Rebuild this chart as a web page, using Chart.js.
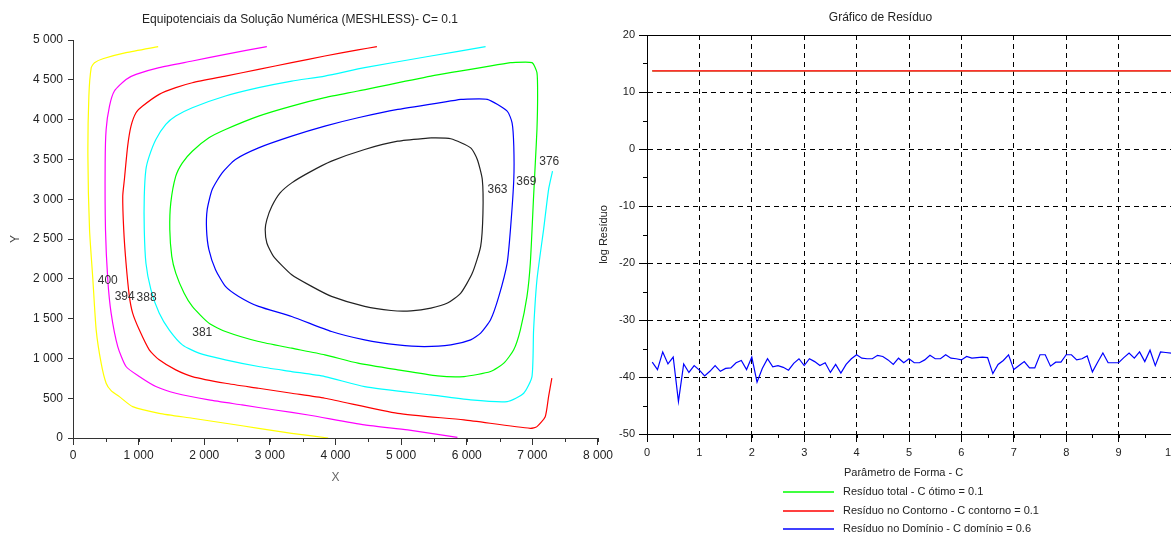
<!DOCTYPE html>
<html>
<head>
<meta charset="utf-8">
<script src="https://cdn.jsdelivr.net/npm/chart.js@4.4.0/dist/chart.umd.min.js"></script>
<style>
body { margin: 0; width: 1171px; height: 533px; overflow: hidden; background: #fff; position: relative; }
#equip { position: absolute; left: 0; top: 0; }
#residuo { position: absolute; left: 590px; top: 0; }
</style>
</head>
<body>
<canvas id="equip" width="616" height="533"></canvas>
<canvas id="residuo" width="636" height="533"></canvas>
<script>
// curvas de nivel (x, y)
const c400 = [[1298,4917],[808,4841],[455,4765],[328,4715],[278,4652],[242,4296],[227,3541],[252,2618],[303,1989],[353,1359],[429,940],[505,688],[581,596],[707,520],[909,394],[1313,310],[1818,248],[2323,185],[2828,122],[3333,59],[3889,0]];
const c394 = [[2954,4917],[2323,4820],[1818,4736],[1313,4652],[960,4568],[808,4505],[631,4359],[556,4170],[505,3876],[490,3457],[495,2618],[530,1988],[581,1569],[682,1149],[808,898],[1010,772],[1263,646],[1566,562],[2071,478],[2576,415],[3081,352],[3586,289],[4444,164],[5101,101],[5858,8]];
const c388 = [[4631,4917],[4343,4875],[3838,4799],[3333,4715],[2828,4631],[2323,4547],[1818,4463],[1566,4401],[1313,4317],[1061,4170],[960,4086],[884,3918],[833,3666],[783,3247],[758,3037],[773,2618],[808,2198],[859,1779],[909,1569],[1010,1359],[1162,1108],[1313,982],[1566,856],[1818,772],[2323,688],[2828,625],[3333,562],[3838,499],[4949,310],[5959,227],[6969,122],[7070,143],[7196,268],[7247,520],[7297,751]];
const c381 = [[6287,4917],[5454,4799],[4444,4652],[3838,4547],[3333,4484],[2828,4401],[2323,4296],[1818,4149],[1566,4044],[1414,3939],[1263,3750],[1162,3541],[1111,3373],[1086,3037],[1086,2618],[1111,2198],[1187,1863],[1313,1569],[1465,1359],[1667,1170],[1919,1066],[2323,982],[2828,898],[3333,835],[3838,772],[4444,646],[5454,541],[6060,478],[6616,457],[6868,562],[6994,772],[7019,1359],[7070,1988],[7171,2618],[7247,3121],[7307,3352]];
const c376 = [[6666,4715],[6994,4715],[7070,4589],[7080,4296],[7070,3876],[7045,3457],[7019,3037],[6969,2198],[6918,1779],[6817,1359],[6716,1108],[6565,940],[6363,835],[5959,772],[5555,780],[4949,856],[4343,940],[3838,1045],[3333,1128],[2828,1212],[2323,1338],[2071,1443],[1818,1653],[1692,1821],[1566,2072],[1505,2282],[1475,2618],[1490,2953],[1566,3289],[1667,3457],[1818,3603],[2071,3771],[2323,3876],[2828,4044],[3333,4170],[3838,4275],[4343,4359],[5454,4547],[6666,4715]];
const c369 = [[5909,4254],[6313,4254],[6616,4107],[6691,3960],[6717,3666],[6717,3247],[6666,2618],[6616,2198],[6489,1779],[6363,1485],[6212,1317],[6060,1233],[5757,1170],[5353,1149],[4949,1170],[4444,1233],[3939,1338],[3333,1527],[2828,1653],[2525,1779],[2323,1905],[2172,2114],[2071,2366],[2035,2618],[2045,2869],[2121,3121],[2273,3331],[2475,3499],[2828,3645],[3333,3792],[3838,3918],[4343,4023],[4949,4128],[5909,4254]];
const c363 = [[5454,3771],[5757,3759],[6060,3645],[6161,3499],[6237,3247],[6247,2827],[6212,2408],[6085,2072],[5909,1821],[5707,1695],[5454,1632],[5151,1598],[4848,1602],[4444,1653],[3939,1779],[3636,1905],[3333,2051],[3055,2282],[2954,2450],[2929,2618],[2954,2744],[3030,2911],[3156,3079],[3333,3205],[3586,3331],[3939,3478],[4444,3625],[4949,3729],[5454,3771]];

const labelText = ['400', '394', '388', '381', '363', '369', '376'];
const labelX = [530, 788, 1121, 1970, 6469, 6908, 7257];
const labelY = [1977, 1775, 1762, 1322, 3122, 3223, 3475];

// residuo x parametro de forma C
const cValues = [0.1,0.2,0.3,0.4,0.5,0.6,0.7,0.8,0.9,1.0,1.1,1.2,1.3,1.4,1.5,1.6,1.7,1.8,1.9,2.0,
  2.1,2.2,2.3,2.4,2.5,2.6,2.7,2.8,2.9,3.0,3.1,3.2,3.3,3.4,3.5,3.6,3.7,3.8,3.9,4.0,
  4.1,4.2,4.3,4.4,4.5,4.6,4.7,4.8,4.9,5.0,5.1,5.2,5.3,5.4,5.5,5.6,5.7,5.8,5.9,6.0,
  6.1,6.2,6.3,6.4,6.5,6.6,6.7,6.8,6.9,7.0,7.1,7.2,7.3,7.4,7.5,7.6,7.7,7.8,7.9,8.0,
  8.1,8.2,8.3,8.4,8.5,8.6,8.7,8.8,8.9,9.0,9.1,9.2,9.3,9.4,9.5,9.6,9.7,9.8,9.9,10.0];
const residuoDominio = [-37.4,-38.7,-35.6,-37.7,-36.5,-44.3,-37.7,-39.2,-38.0,-38.8,
  -39.8,-39.0,-38.0,-39.0,-38.5,-38.4,-37.5,-37.1,-38.7,-36.5,
  -40.9,-38.5,-36.8,-38.2,-38.0,-38.3,-38.8,-37.6,-36.8,-38.0,
  -36.8,-37.3,-38.0,-37.5,-39.2,-37.8,-39.3,-37.8,-36.8,-36.1,
  -36.7,-36.8,-36.8,-36.2,-36.4,-37.0,-37.8,-36.7,-37.5,-36.8,
  -37.5,-37.5,-37.0,-36.2,-36.8,-36.8,-36.1,-36.7,-36.8,-37.0,
  -36.4,-36.7,-36.6,-36.5,-36.6,-39.4,-37.8,-37.1,-36.1,-38.7,
  -38.0,-37.3,-38.4,-38.4,-36.1,-36.1,-38.1,-37.4,-37.4,-36.1,
  -36.1,-37.0,-36.8,-36.3,-39.1,-37.4,-35.8,-37.5,-37.5,-37.5,
  -36.6,-35.8,-36.7,-35.6,-37.3,-35.3,-38.0,-35.6,-35.7,-35.8];
const cContorno = [0.1, 10];
const residuoContorno = [13.7, 13.7];
const residuoTotal = [13.7, 13.7];

const legendLabels = ['Resíduo total - C ótimo = 0.1', 'Resíduo no Contorno - C contorno = 0.1', 'Resíduo no Domínio - C domínio = 0.6'];
const legendColors = ['#00ff00', '#ff0000', '#0000ff'];

const FONT = '"Liberation Sans", Arial, sans-serif';
Chart.defaults.font.family = FONT;
Chart.defaults.color = '#222';

function milhar(v) {
  if (v < 1000) return String(v);
  return Math.floor(v / 1000) + ' ' + String(v % 1000).padStart(3, '0');
}
function pts(arr) { return arr.map(p => ({ x: p[0], y: p[1] })); }

const minorTicks = {
  id: 'minorTicks',
  afterDraw(chart, args, opts) {
    const ctx = chart.ctx;
    ctx.save();
    ctx.strokeStyle = opts.color || '#000';
    ctx.lineWidth = 1;
    ctx.beginPath();
    (opts.axes || []).forEach(a => {
      const s = chart.scales[a.id];
      for (let v = s.min; v <= s.max + 1e-9; v += a.step) {
        const p = Math.round(s.getPixelForValue(v)) + 0.5;
        if (s.isHorizontal()) { ctx.moveTo(p, s.top); ctx.lineTo(p, s.top + a.len); }
        else { ctx.moveTo(s.right, p); ctx.lineTo(s.right - a.len, p); }
      }
    });
    ctx.stroke();
    ctx.restore();
  }
};

const contourLabels = {
  id: 'contourLabels',
  afterDatasetsDraw(chart) {
    const { ctx, scales: { x, y } } = chart;
    ctx.save();
    ctx.font = '12px ' + FONT;
    ctx.fillStyle = '#333';
    ctx.textAlign = 'center';
    ctx.textBaseline = 'middle';
    labelText.forEach((t, i) => ctx.fillText(t, x.getPixelForValue(labelX[i]), y.getPixelForValue(labelY[i])));
    ctx.restore();
  }
};

const residuoExtras = {
  id: 'residuoExtras',
  afterDraw(chart) {
    const { ctx, chartArea: a } = chart;
    ctx.save();
    ctx.strokeStyle = '#000';
    ctx.lineWidth = 1;
    ctx.beginPath();
    ctx.moveTo(a.left, Math.round(a.top) + 0.5);
    ctx.lineTo(a.right, Math.round(a.top) + 0.5);
    ctx.stroke();
    ctx.font = '11px ' + FONT;
    ctx.fillStyle = '#222';
    ctx.textBaseline = 'middle';
    ctx.fillText('Parâmetro de Forma - C', a.left + 197, a.bottom + 39);
    ctx.lineWidth = 1.4;
    legendLabels.forEach((t, i) => {
      const yy = Math.round(a.bottom + 58 + i * 18.5);
      ctx.strokeStyle = legendColors[i];
      ctx.beginPath();
      ctx.moveTo(a.left + 136, yy);
      ctx.lineTo(a.left + 187, yy);
      ctx.stroke();
      ctx.fillText(t, a.left + 196, yy);
    });
    ctx.restore();
  }
};

const contourSets = [
  [c400, '#ffff00'], [c394, '#ff00ff'], [c388, '#ff0000'], [c381, '#00ffff'],
  [c376, '#00ff00'], [c369, '#0000ff'], [c363, '#222222']
];

new Chart(document.getElementById('equip'), {
  type: 'scatter',
  data: {
    datasets: contourSets.map(([d, col]) => ({
      data: pts(d), showLine: true, borderColor: col, borderWidth: 1.2,
      pointRadius: 0, tension: 0.2, fill: false
    }))
  },
  options: {
    responsive: false, animation: false,
    layout: { padding: { right: 16, left: 0, top: 0, bottom: 0 } },
    plugins: {
      legend: { display: false }, tooltip: { enabled: false },
      title: { display: true, text: 'Equipotenciais da Solução Numérica (MESHLESS)- C= 0.1',
        font: { size: 12, weight: 'normal' }, color: '#222', padding: { top: 12.8, bottom: 12.8 } },
      minorTicks: { color: '#333', axes: [{ id: 'x', step: 500, len: 4 }] }
    },
    scales: {
      x: {
        type: 'linear', min: 0, max: 8000,
        ticks: { stepSize: 1000, callback: v => milhar(v), font: { size: 12 }, color: '#222', padding: 3, maxRotation: 0 },
        grid: { drawOnChartArea: false, tickLength: 7, tickColor: '#333' },
        border: { color: '#333' },
        title: { display: true, text: 'X', color: '#666', font: { size: 12 }, padding: { top: 0, bottom: 48 } },
        afterFit: s => { s.height = 95; }
      },
      y: {
        type: 'linear', min: 0, max: 5000,
        ticks: { stepSize: 500, callback: v => milhar(v), font: { size: 12 }, color: '#222', padding: 5 },
        grid: { drawOnChartArea: false, tickLength: 5, tickColor: '#333' },
        border: { color: '#333' },
        title: { display: true, text: 'Y', color: '#444', font: { size: 12 }, padding: { top: 8, bottom: 0 } },
        afterFit: s => { s.width = 73; }
      }
    }
  },
  plugins: [minorTicks, contourLabels]
});

new Chart(document.getElementById('residuo'), {
  type: 'scatter',
  data: {
    datasets: [
      { data: cContorno.map((c, i) => ({ x: c, y: residuoTotal[i] })), borderColor: '#00ff00', order: 3 },
      { data: cContorno.map((c, i) => ({ x: c, y: residuoContorno[i] })), borderColor: '#ff3030', borderWidth: 1.6, order: 2 },
      { data: cValues.map((c, i) => ({ x: c, y: residuoDominio[i] })), borderColor: '#0000ff', order: 1 }
    ].map(d => Object.assign({ showLine: true, pointRadius: 0, borderWidth: 1.2, tension: 0, fill: false }, d))
  },
  options: {
    responsive: false, animation: false,
    layout: { padding: { right: 55, left: 0, top: 0, bottom: 0 } },
    plugins: {
      legend: { display: false }, tooltip: { enabled: false },
      title: { display: true, text: 'Gráfico de Resíduo',
        font: { size: 12, weight: 'normal' }, color: '#222', padding: { top: 10.8, bottom: 9.8 } },
      minorTicks: { color: '#000', axes: [{ id: 'x', step: 0.5, len: 4 }, { id: 'y', step: 5, len: 4 }] }
    },
    scales: {
      x: {
        type: 'linear', min: 0, max: 10,
        ticks: { stepSize: 1, font: { size: 11 }, color: '#222', padding: 4, maxRotation: 0 },
        grid: { color: '#000', tickColor: '#000', tickLength: 8, tickBorderDash: [] },
        border: { color: '#000', dash: [5, 4] },
        afterFit: s => { s.height = 99; }
      },
      y: {
        type: 'linear', min: -50, max: 20,
        ticks: { stepSize: 10, font: { size: 11 }, color: '#222', padding: 4 },
        grid: { color: '#000', tickColor: '#000', tickLength: 8, tickBorderDash: [] },
        border: { color: '#000', dash: [5, 4] },
        title: { display: true, text: 'log Resíduo', color: '#222', font: { size: 11 }, padding: { top: 7.5, bottom: 0 } },
        afterFit: s => { s.width = 57; }
      }
    }
  },
  plugins: [minorTicks, residuoExtras]
});
</script>
</body>
</html>
